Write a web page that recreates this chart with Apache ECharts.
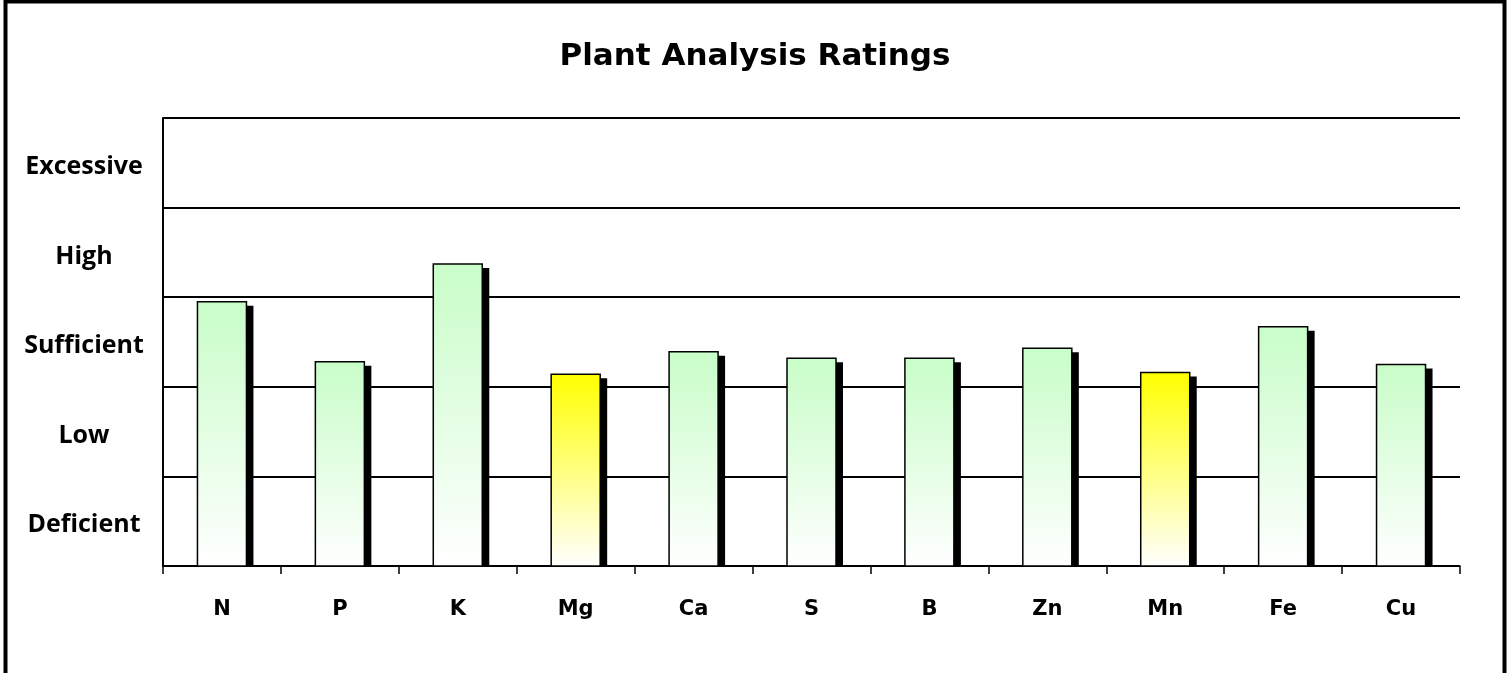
<!DOCTYPE html>
<html><head><meta charset="utf-8">
<script src="https://cdn.jsdelivr.net/npm/echarts@6/dist/echarts.min.js"></script>
<style>html,body{margin:0;padding:0;background:#fff}#c{width:1510px;height:673px}</style>
</head><body><div id="c"></div>
<script>
const categories = ['N','P','K','Mg','Ca','S','B','Zn','Mn','Fe','Cu'];
const ratings = [2.95, 2.28, 3.37, 2.14, 2.39, 2.32, 2.32, 2.43, 2.16, 2.67, 2.25];
const lowFlags = [false,false,false,true,false,false,false,false,true,false,false];
const bandLabels = ['Deficient','Low','Sufficient','High','Excessive'];

const green = {type:'linear',x:0,y:0,x2:0,y2:1,colorStops:[{offset:0,color:'#c8fdc8'},{offset:1,color:'#ffffff'}]};
const yellow = {type:'linear',x:0,y:0,x2:0,y2:1,colorStops:[{offset:0,color:'#ffff00'},{offset:1,color:'#ffffff'}]};

const chart = echarts.init(document.getElementById('c'));
chart.setOption({
  animation:false,
  backgroundColor:'#fff',
  title:{text:'Plant Analysis Ratings',left:'center',top:36,
    textStyle:{fontFamily:'DejaVu Sans',fontWeight:'bold',fontSize:31,color:'#000'}},
  graphic:[{type:'rect',shape:{x:5.5,y:1.5,width:1499,height:720},style:{fill:null,stroke:'#000',lineWidth:4},silent:true}],
  grid:{left:163,right:50,top:118,bottom:107},
  xAxis:{type:'category',data:categories,
    axisLine:{lineStyle:{color:'#000',width:1.5}},
    axisTick:{show:true,inside:false,length:8,lineStyle:{color:'#000',width:1.5}},
    axisLabel:{margin:33,color:'#000',fontFamily:'DejaVu Sans',fontWeight:'bold',fontSize:21}},
  yAxis:[
    {type:'value',min:0,max:5,interval:1,
     axisLine:{show:true,lineStyle:{color:'#000',width:2}},
     axisTick:{show:false},axisLabel:{show:false},
     splitLine:{show:true,lineStyle:{color:'#000',width:2}}},
    {type:'category',data:bandLabels,position:'left',boundaryGap:true,
     axisLine:{show:false},axisTick:{show:false},splitLine:{show:false},
     axisLabel:{margin:79,align:'center',color:'#000',
       formatter:function(v){return '{a|'+v+'}';},
       rich:{a:{padding:[8,0,0,0],fontFamily:'Open Sans, Lato, sans-serif',fontWeight:'bold',fontSize:25,color:'#000'}}}}
  ],
  series:[{type:'custom',yAxisIndex:0,
    data:ratings.map((v,i)=>[i,v,lowFlags[i]?1:0]),
    encode:{x:0,y:1},
    renderItem:function(params,api){
      const i=api.value(0), v=api.value(1), low=api.value(2);
      const top=api.coord([i,v]), base=api.coord([i,0]);
      const w=49, x0=top[0]-w/2;
      return {type:'group',children:[
        {type:'rect',shape:{x:x0+7,y:top[1]+4,width:w,height:base[1]-top[1]-3},style:{fill:'#000'}},
        {type:'rect',shape:{x:x0,y:top[1],width:w,height:base[1]-top[1]},
         style:{fill:low?yellow:green,stroke:'#000',lineWidth:1.5}}
      ]};
    }
  }]
});
</script></body></html>
